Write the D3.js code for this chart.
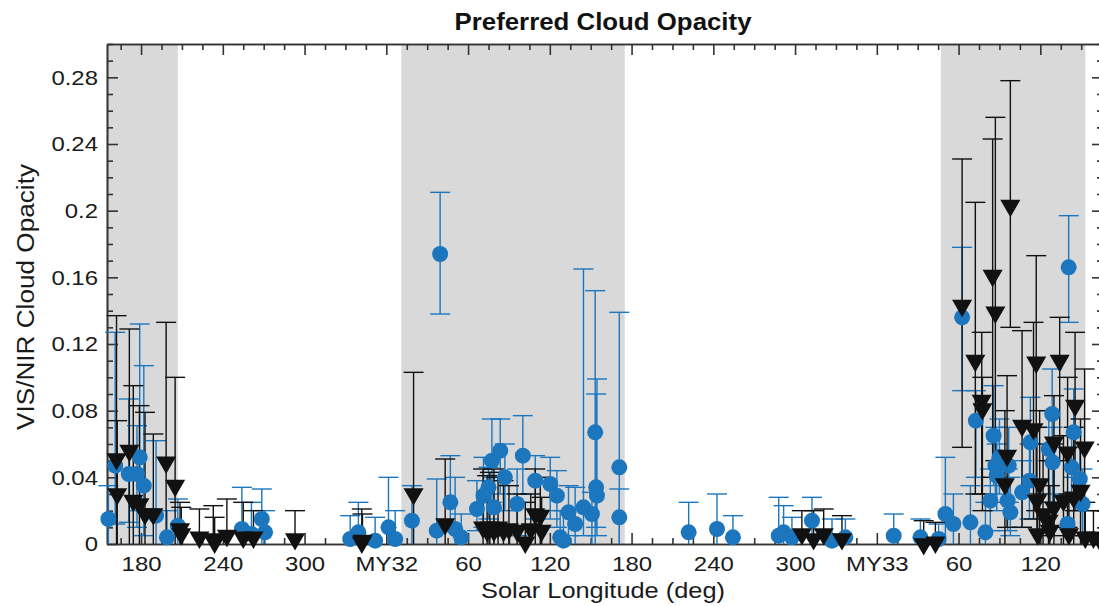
<!DOCTYPE html>
<html>
<head>
<meta charset="utf-8">
<script src="https://cdn.jsdelivr.net/npm/d3@7"></script>
<style>
  body { margin: 0; background: #fff; overflow: hidden; }
  svg { display: block; }
</style>
</head>
<body>
<div id="chart"></div>
<script>
// Solar longitude is cumulative: MY31 Ls as is, MY32 = 360 + Ls, MY33 = 720 + Ls
const xTickValues = [180, 240, 300, 360, 420, 480, 540, 600, 660, 720, 780, 840];
const xTickLabels = ['180', '240', '300', 'MY32', '60', '120', '180', '240', '300', 'MY33', '60', '120'];
const yTickValues = [0, 0.04, 0.08, 0.12, 0.16, 0.2, 0.24, 0.28];
const yTickLabels = ['0', '0.04', '0.08', '0.12', '0.16', '0.2', '0.24', '0.28'];

const shadeStart = [155, 371, 767];
const shadeEnd = [207, 535, 873];

// blue circles: detected opacity with error range
const blueLs = [156, 161, 171, 179, 177, 182, 191, 199, 207, 254, 261, 268.6, 271,
  333.5, 339.5, 351.8, 361.6, 366.5, 378.8, 397, 399.5, 407, 410.5, 415,
  426.5, 431.3, 437.5, 443.6, 435, 439, 447, 460.2, 456, 469.3, 480.3, 485.2, 487.6,
  493.7, 498.6, 504.7, 510.9, 513.3, 514.6, 514, 531, 531, 490,
  581.9, 602.7, 614.4, 648, 651.6, 657.7, 672.4, 687.1, 696.9,
  732.4, 752, 765.4, 770.3, 776.2, 782.6, 788.7, 792.7, 799.7, 803.3, 805.7, 807, 808,
  810, 816.8, 818, 826.6, 832, 832.7, 846.2, 849, 848.7, 860.8, 864.5, 863, 860, 871, 869, 816];
const blueVal = [0.015, 0.047, 0.042, 0.052, 0.042, 0.035, 0.017, 0.004, 0.011, 0.009, 0.006, 0.015, 0.007,
  0.003, 0.007, 0.002, 0.010, 0.003, 0.014, 0.008, 0.174, 0.025, 0.009, 0.004,
  0.021, 0.029, 0.050, 0.056, 0.034, 0.022, 0.040, 0.053, 0.024, 0.038, 0.036, 0.029, 0.004,
  0.019, 0.012, 0.022, 0.018, 0.067, 0.029, 0.034, 0.046, 0.016, 0.002,
  0.007, 0.009, 0.004, 0.005, 0.007, 0.004, 0.014, 0.002, 0.004,
  0.005, 0.004, 0.003, 0.018, 0.012, 0.136, 0.013, 0.074, 0.007, 0.026, 0.065, 0.047, 0.041,
  0.052, 0.047, 0.019, 0.031, 0.038, 0.061, 0.057, 0.049, 0.078, 0.166, 0.067, 0.046, 0.012, 0.024, 0.039, 0.026];
const blueLo = [0, 0.012, 0.013, 0.020, 0.010, 0.005, 0, 0, 0, 0, 0, 0, 0,
  0, 0, 0, 0, 0, 0, 0, 0.138, 0.010, 0, 0,
  0.008, 0.010, 0.025, 0.030, 0.015, 0, 0.020, 0.030, 0.005, 0.015, 0.015, 0.010, 0,
  0.005, 0, 0.005, 0, 0, 0.005, 0.010, 0, 0, 0,
  0, 0, 0, 0, 0, 0, 0, 0, 0,
  0, 0, 0, 0, 0, 0.092, 0, 0.040, 0, 0.008, 0.035, 0.025, 0.020,
  0.030, 0.025, 0.005, 0.010, 0.015, 0.035, 0.030, 0.025, 0.050, 0.133, 0.040, 0.025, 0, 0.005, 0.020, 0.008];
const blueHi = [0.035, 0.127, 0.087, 0.132, 0.071, 0.107, 0.062, 0.020, 0.027, 0.034, 0.025, 0.033, 0.020,
  0.017, 0.025, 0.016, 0.040, 0.020, 0.035, 0.039, 0.211, 0.053, 0.040, 0.018,
  0.038, 0.052, 0.075, 0.075, 0.046, 0.040, 0.060, 0.077, 0.045, 0.053, 0.052, 0.044, 0.020,
  0.035, 0.034, 0.165, 0.031, 0.152, 0.099, 0.090, 0.139, 0.033, 0.020,
  0.025, 0.030, 0.017, 0.028, 0.023, 0.016, 0.028, 0.015, 0.015,
  0.018, 0.015, 0.012, 0.052, 0.030, 0.178, 0.035, 0.092, 0.025, 0.045, 0.095, 0.070, 0.060,
  0.075, 0.070, 0.040, 0.050, 0.060, 0.088, 0.080, 0.070, 0.105, 0.197, 0.093, 0.065, 0.030, 0.045, 0.058, 0.045];

// black triangles: upper limits with error range
const blackLs = [162, 162.5, 171.4, 174.3, 178.8, 182.9, 189, 198.4, 205, 208.6, 209.5, 222.8, 233, 234,
  243, 255, 262.5, 293, 342, 342.5, 380, 403.2,
  431, 434, 436, 439, 442, 446, 450, 456, 462, 466, 469.3, 473, 474,
  665, 673.6, 681, 694.4, 754.4, 763,
  782.6, 792.3, 797, 797.5, 805, 807, 818, 815.6, 814, 826.6, 835, 837, 850, 854.2, 860, 865.5, 872.5,
  837.5, 842, 846, 850, 857, 864.5, 869.5, 839.5, 861, 873, 838, 847, 879, 884];
const blackVal = [0.051, 0.030, 0.056, 0.026, 0.024, 0.018, 0.018, 0.049, 0.035, 0.009, 0.006, 0.004, 0.003, 0.001,
  0.005, 0.004, 0.004, 0.003, 0.001, 0.002, 0.030, 0.012,
  0.010, 0.008, 0.010, 0.008, 0.010, 0.008, 0.009, 0.008, 0.001, 0.009, 0.018, 0.017, 0.008,
  0.006, 0.003, 0.006, 0.003, 0.000, 0.001,
  0.143, 0.110, 0.086, 0.081, 0.161, 0.139, 0.203, 0.053, 0.036, 0.071, 0.069, 0.109, 0.061, 0.110, 0.055, 0.083, 0.058,
  0.026, 0.018, 0.014, 0.022, 0.026, 0.028, 0.032, 0.036, 0.006, 0.004, 0.006, 0.008, 0.004, 0.002];
const blackLo = [0, 0, 0, 0, 0, 0, 0, 0, 0, 0, 0, 0, 0, 0,
  0, 0, 0, 0, 0, 0, 0, 0,
  0, 0, 0, 0, 0, 0, 0, 0, 0, 0, 0, 0, 0,
  0, 0, 0, 0, 0, 0,
  0.058, 0.030, 0.030, 0.020, 0.040, 0.050, 0.130, 0.010, 0, 0.010, 0.015, 0.020, 0.005, 0.050, 0.010, 0.020, 0.005,
  0, 0, 0, 0, 0, 0, 0, 0, 0, 0, 0, 0, 0, 0];
const blackHi = [0.137, 0.074, 0.129, 0.095, 0.083, 0.079, 0.066, 0.133, 0.100, 0.025, 0.022, 0.021, 0.023, 0.016,
  0.027, 0.025, 0.020, 0.020, 0.021, 0.018, 0.103, 0.051,
  0.045, 0.041, 0.043, 0.045, 0.040, 0.038, 0.035, 0.030, 0.025, 0.030, 0.045, 0.040, 0.028,
  0.020, 0.020, 0.021, 0.017, 0.014, 0.013,
  0.231, 0.205, 0.127, 0.100, 0.243, 0.256, 0.278, 0.101, 0.080, 0.128, 0.133, 0.173, 0.089, 0.136, 0.100, 0.127, 0.105,
  0.070, 0.060, 0.050, 0.060, 0.065, 0.070, 0.075, 0.080, 0.030, 0.025, 0.030, 0.035, 0.020, 0.020];

const width = 1099, height = 606;
const plot = { left: 107, right: 1103, top: 44, bottom: 544 };
const blue = '#1c76bd';
const black = '#111111';
const axisColor = '#333333';
const font = '"Liberation Sans", Arial, Helvetica, sans-serif';

const svg = d3.select('#chart')
  .append('svg')
  .attr('width', width)
  .attr('height', height)
  .style('font-family', font);

const xScale = d3.scaleLinear().domain([155, 886]).range([plot.left, plot.right]);
const yScale = d3.scaleLinear().domain([0, 0.30]).range([plot.bottom, plot.top]);

// stretch text a bit wider, like the reference
function stretch(sel, k) {
  sel.each(function () {
    const len = this.getComputedTextLength();
    d3.select(this).attr('textLength', len * k).attr('lengthAdjust', 'spacingAndGlyphs');
  });
}

// shaded seasons
svg.selectAll('.shade')
  .data(shadeStart.map((s, i) => [s, shadeEnd[i]]))
  .enter()
  .append('rect')
  .attr('class', 'shade')
  .attr('x', d => xScale(d[0]))
  .attr('y', plot.top)
  .attr('width', d => xScale(d[1]) - xScale(d[0]))
  .attr('height', plot.bottom - plot.top)
  .attr('fill', '#d9d9d9');

// axes: ticks pointing inward on all four sides
const xMinor = d3.range(165, 886, 15).filter(v => !xTickValues.includes(v));
const yMinor = d3.range(0, 0.305, 0.01).map(v => +v.toFixed(2)).filter(v => !yTickValues.includes(v));

const bottomAxis = d3.axisBottom(xScale).tickValues(xTickValues)
  .tickFormat((d, i) => xTickLabels[i]).tickSizeInner(-11).tickSizeOuter(0).tickPadding(12);
const bottomMinor = d3.axisBottom(xScale).tickValues(xMinor).tickFormat('').tickSizeInner(-6).tickSizeOuter(0);
const topAxis = d3.axisTop(xScale).tickValues(xTickValues).tickFormat('').tickSizeInner(-11).tickSizeOuter(0);
const topMinor = d3.axisTop(xScale).tickValues(xMinor).tickFormat('').tickSizeInner(-6).tickSizeOuter(0);
const leftAxis = d3.axisLeft(yScale).tickValues(yTickValues)
  .tickFormat((d, i) => yTickLabels[i]).tickSizeInner(-11).tickSizeOuter(0).tickPadding(9);
const leftMinor = d3.axisLeft(yScale).tickValues(yMinor).tickFormat('').tickSizeInner(-6).tickSizeOuter(0);
const rightAxis = d3.axisRight(yScale).tickValues(yTickValues).tickFormat('').tickSizeInner(-11).tickSizeOuter(0);
const rightMinor = d3.axisRight(yScale).tickValues(yMinor).tickFormat('').tickSizeInner(-6).tickSizeOuter(0);

const axes = [
  [bottomAxis, `translate(0,${plot.bottom})`], [bottomMinor, `translate(0,${plot.bottom})`],
  [topAxis, `translate(0,${plot.top})`], [topMinor, `translate(0,${plot.top})`],
  [leftAxis, `translate(${plot.left},0)`], [leftMinor, `translate(${plot.left},0)`],
  [rightAxis, `translate(${plot.right},0)`], [rightMinor, `translate(${plot.right},0)`]
];
axes.forEach(([ax, tr]) => {
  const g = svg.append('g').attr('class', 'axis').attr('transform', tr).call(ax);
  g.select('.domain').attr('stroke', axisColor).attr('stroke-width', 1.6);
  g.selectAll('.tick line').attr('stroke', axisColor).attr('stroke-width', 1.6);
  g.selectAll('.tick text')
    .attr('fill', '#1a1a1a')
    .style('font-size', '21px')
    .style('font-family', font);
});
svg.selectAll('.axis .tick text').call(stretch, 1.14);

// error bars
function errorBars(cls, ls, lo, hi, color) {
  const g = svg.append('g').attr('class', cls);
  const data = ls.map((l, i) => ({ l, lo: lo[i], hi: hi[i] }));
  g.selectAll('.stem').data(data).enter().append('line')
    .attr('x1', d => xScale(d.l)).attr('x2', d => xScale(d.l))
    .attr('y1', d => yScale(d.lo)).attr('y2', d => yScale(d.hi))
    .attr('stroke', color).attr('stroke-width', 1.4);
  g.selectAll('.capHi').data(data).enter().append('line')
    .attr('x1', d => xScale(d.l) - 10).attr('x2', d => xScale(d.l) + 10)
    .attr('y1', d => yScale(d.hi)).attr('y2', d => yScale(d.hi))
    .attr('stroke', color).attr('stroke-width', 1.4);
  g.selectAll('.capLo').data(data.filter(d => d.lo > 0)).enter().append('line')
    .attr('x1', d => xScale(d.l) - 10).attr('x2', d => xScale(d.l) + 10)
    .attr('y1', d => yScale(d.lo)).attr('y2', d => yScale(d.lo))
    .attr('stroke', color).attr('stroke-width', 1.4);
}
errorBars('blue-err', blueLs, blueLo, blueHi, blue);
errorBars('black-err', blackLs, blackLo, blackHi, black);

svg.append('g').selectAll('circle')
  .data(blueLs.map((l, i) => ({ l, v: blueVal[i] })))
  .enter()
  .append('circle')
  .attr('cx', d => xScale(d.l))
  .attr('cy', d => yScale(d.v))
  .attr('r', 8)
  .attr('fill', blue);

const tri = d3.symbol().type(d3.symbolTriangle).size(175);
svg.append('g').selectAll('path')
  .data(blackLs.map((l, i) => ({ l, v: blackVal[i] })))
  .enter()
  .append('path')
  .attr('d', tri)
  .attr('transform', d => `translate(${xScale(d.l)},${yScale(d.v)}) rotate(180)`)
  .attr('fill', black);

// titles
svg.append('text')
  .attr('x', 603).attr('y', 30)
  .attr('text-anchor', 'middle')
  .style('font-size', '23px').style('font-weight', 'bold')
  .attr('fill', '#111')
  .attr('textLength', 297).attr('lengthAdjust', 'spacingAndGlyphs')
  .text('Preferred Cloud Opacity');

svg.append('text')
  .attr('x', 603).attr('y', 598)
  .attr('text-anchor', 'middle')
  .style('font-size', '22px')
  .attr('fill', '#1a1a1a')
  .attr('textLength', 244).attr('lengthAdjust', 'spacingAndGlyphs')
  .text('Solar Longitude (deg)');

svg.append('text')
  .attr('transform', 'translate(34,297) rotate(-90)')
  .attr('text-anchor', 'middle')
  .style('font-size', '23px')
  .attr('fill', '#1a1a1a')
  .attr('textLength', 266).attr('lengthAdjust', 'spacingAndGlyphs')
  .text('VIS/NIR Cloud Opacity');
</script>
</body>
</html>
